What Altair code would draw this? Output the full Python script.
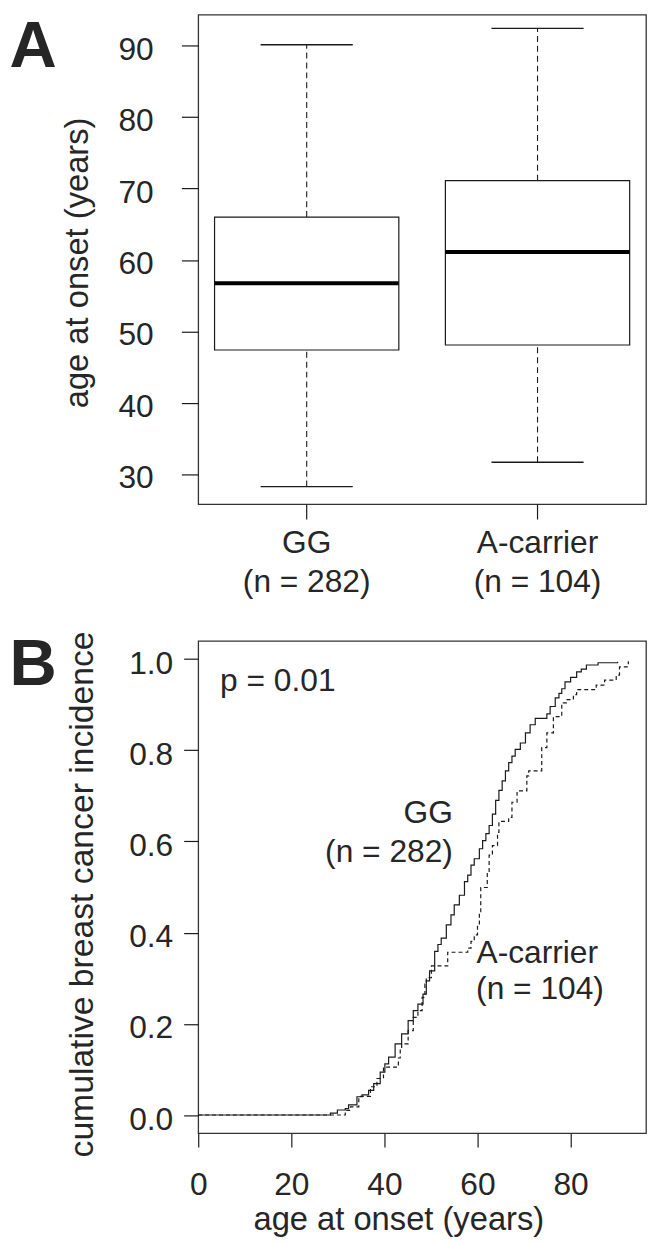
import altair as alt
import pandas as pd

# ---------------- Panel A: box plot summary (age at onset, years) ----------------
groups = ["GG", "A-carrier"]
group_n = [282, 104]
whisker_low = [28.3, 31.7]
q1 = [47.4, 48.1]
median = [56.75, 61.1]
q3 = [66.0, 71.1]
whisker_high = [90.1, 92.4]

# ---------------- Panel B: cumulative incidence ----------------
gg_age = [0, 28.4, 29.9, 31.6, 32.3, 34.1, 35.2, 36.6, 37.7, 39.1, 40.1, 40.9, 42.3, 43.7,
          45.1, 46.2, 47.2, 48.3, 49.0, 49.7, 50.8, 51.5, 52.2, 53.3, 54.3, 55.0, 56.1, 57.2,
          57.9, 58.6, 59.3, 60.4, 61.1, 61.8, 62.5, 63.2, 63.9, 64.6, 65.3, 66.0, 66.7, 67.4,
          68.1, 69.2, 70.3, 71.3, 72.4, 74.9, 75.6, 76.7, 77.5, 78.1, 78.8, 80.0, 81.3, 82.3,
          83.4, 85.9, 90.1]
gg_cum = [0, 0.004, 0.011, 0.014, 0.022, 0.040, 0.044, 0.054, 0.069, 0.094, 0.112, 0.127, 0.156, 0.178,
          0.207, 0.229, 0.243, 0.265, 0.294, 0.316, 0.359, 0.374, 0.388, 0.417, 0.439, 0.461, 0.482, 0.512,
          0.526, 0.548, 0.562, 0.584, 0.602, 0.617, 0.635, 0.660, 0.690, 0.712, 0.733, 0.755, 0.773, 0.787,
          0.802, 0.816, 0.838, 0.856, 0.870, 0.880, 0.896, 0.915, 0.925, 0.935, 0.950, 0.960, 0.972, 0.978,
          0.987, 0.992, 0.994]

ac_age = [0, 31.6, 32.7, 34.5, 37.0, 38.4, 39.8, 43.0, 43.4, 43.7, 45.1, 46.2, 47.2, 48.1, 48.7,
          49.0, 50.1, 53.6, 57.9, 58.6, 59.3, 60.0, 60.4, 60.7, 62.1, 62.5, 63.2, 64.3, 64.6, 66.7,
          67.4, 68.5, 70.6, 71.0, 73.8, 74.9, 76.3, 78.1, 79.1, 80.6, 81.3, 85.5, 87.3, 89.8, 90.5, 92.4]
ac_cum = [0, 0.010, 0.018, 0.041, 0.062, 0.080, 0.105, 0.125, 0.145, 0.156, 0.185, 0.214, 0.229, 0.258, 0.287,
          0.301, 0.327, 0.357, 0.366, 0.381, 0.395, 0.417, 0.446, 0.499, 0.533, 0.570, 0.591, 0.620, 0.644, 0.653,
          0.686, 0.711, 0.744, 0.755, 0.806, 0.838, 0.874, 0.904, 0.911, 0.922, 0.933, 0.943, 0.954, 0.965, 0.983, 0.995]

p_value_text = "p = 0.01"

FONT = "Liberation Sans"
TXT = "#262626"
LINE = "#1a1a1a"

# ---------------- tables ----------------
labels = [f"{g}\n(n = {n})" for g, n in zip(groups, group_n)]
box_df = pd.DataFrame({"label": labels, "lower": whisker_low, "q1": q1, "median": median,
                       "q3": q3, "upper": whisker_high})

km_gg = pd.DataFrame({"age": gg_age, "cum": gg_cum})
km_ac = pd.DataFrame({"age": ac_age, "cum": ac_cum})

annot_right = pd.DataFrame({"age": [54.7, 54.7], "cum": [0.641, 0.556],
                            "t": [groups[0], f"(n = {group_n[0]})"]})
annot_left = pd.DataFrame({"age": [59.8, 59.7, 4.7], "cum": [0.334, 0.254, 0.931],
                           "t": [groups[1], f"(n = {group_n[1]})", p_value_text]})

# ---------------- Panel A ----------------
xA_scale = alt.Scale(domain=labels, paddingInner=0.2017, paddingOuter=0.0708)
xA_axis = alt.Axis(title=None, labelExpr="split(datum.label, '\\n')", labelAngle=0,
                   labelFontSize=32, labelLineHeight=39, labelBaseline="top", labelAlign="center",
                   labelPadding=9, tickSize=15, labelOverlap=False)
yA_scale = alt.Scale(domain=[25.84, 94.3], nice=False, zero=False)
yA_axis = alt.Axis(values=[30, 40, 50, 60, 70, 80, 90], title="age at onset (years)",
                   titleFontSize=33, titleAngle=-90, titleX=-112, titleY=250,
                   titleBaseline="alphabetic", titleAlign="center",
                   labelFontSize=32, labelBaseline="alphabetic", labelOffset=13.7,
                   labelPadding=28.4, tickSize=17, labelFlush=False, labelOverlap=False)


def xa():
    return alt.X("label:N", scale=xA_scale, axis=xA_axis)


def ya(field):
    return alt.Y(f"{field}:Q", scale=yA_scale, axis=yA_axis)


baseA = alt.Chart(box_df)
whisk_hi = baseA.mark_rule(color=LINE, strokeWidth=1.1, strokeDash=[6, 4]).encode(
    x=xa(), y=ya("q3"), y2="upper")
whisk_lo = baseA.mark_rule(color=LINE, strokeWidth=1.1, strokeDash=[6, 4]).encode(
    x=xa(), y=ya("lower"), y2="q1")
box = baseA.mark_bar(fill="white", stroke=LINE, strokeWidth=1.2).encode(
    x=xa(), y=ya("q1"), y2="q3")
med = baseA.mark_tick(color="black", size=186, thickness=4, opacity=1).encode(
    x=xa(), y=ya("median"))
cap_hi = baseA.mark_tick(color=LINE, size=93, thickness=1.3, opacity=1).encode(
    x=xa(), y=ya("upper"))
cap_lo = baseA.mark_tick(color=LINE, size=93, thickness=1.3, opacity=1).encode(
    x=xa(), y=ya("lower"))
letterA = alt.Chart(pd.DataFrame({"t": ["A"]})).mark_text(
    font=FONT, fontSize=66, fontWeight="bold", align="left", baseline="alphabetic",
    color=TXT).encode(text="t:N", x=alt.value(-190.5), y=alt.value(53))

panelA = alt.layer(whisk_hi, whisk_lo, box, med, cap_hi, cap_lo, letterA).properties(
    width=452, height=494)

# ---------------- Panel B ----------------
xB_scale = alt.Scale(domain=[0, 96.2], nice=False, zero=False)
xB_axis = alt.Axis(values=[0, 20, 40, 60, 80], title="age at onset (years)",
                   titleFontSize=33, titleX=202, titleY=97, titleBaseline="alphabetic",
                   titleAlign="center", labelFontSize=32, labelBaseline="top",
                   labelPadding=23, tickSize=14, labelFlush=False, labelOverlap=False)
yB_scale = alt.Scale(domain=[-0.04, 1.04], nice=False, zero=False)
yB_axis = alt.Axis(values=[0, 0.2, 0.4, 0.6, 0.8, 1.0], format=".1f",
                   title="cumulative breast cancer incidence", titleFontSize=34,
                   titleAngle=-90, titleX=-106.3, titleY=255.5, titleBaseline="alphabetic",
                   titleAlign="center", labelFontSize=32, labelBaseline="alphabetic",
                   labelOffset=14.3, labelPadding=11, tickSize=14.7, labelFlush=False,
                   labelOverlap=False)


def xb():
    return alt.X("age:Q", scale=xB_scale, axis=xB_axis)


def yb():
    return alt.Y("cum:Q", scale=yB_scale, axis=yB_axis)


line_gg = alt.Chart(km_gg).mark_line(interpolate="step-after", color=LINE, strokeWidth=1.2).encode(
    x=xb(), y=yb())
line_ac = alt.Chart(km_ac).mark_line(interpolate="step-after", color=LINE, strokeWidth=1.2,
                                     strokeDash=[4, 3]).encode(x=xb(), y=yb())
txt_r = alt.Chart(annot_right).mark_text(font=FONT, fontSize=32, align="right",
                                         baseline="alphabetic", color=TXT).encode(
    x=xb(), y=yb(), text="t:N")
txt_l = alt.Chart(annot_left).mark_text(font=FONT, fontSize=32, align="left",
                                        baseline="alphabetic", color=TXT).encode(
    x=xb(), y=yb(), text="t:N")
letterB = alt.Chart(pd.DataFrame({"t": ["B"]})).mark_text(
    font=FONT, fontSize=66, fontWeight="bold", align="left", baseline="alphabetic",
    color=TXT).encode(text="t:N", x=alt.value(-190.5), y=alt.value(45))

panelB = alt.layer(line_gg, line_ac, txt_r, txt_l, letterB).properties(width=452, height=497)

chart = alt.vconcat(panelA, panelB, spacing=138, bounds="flush").properties(
    padding={"left": 0, "top": 0, "right": 0, "bottom": 0},
    autosize=alt.AutoSizeParams(type="pad")
).configure_view(
    stroke="#333333", strokeWidth=1.3
).configure_axis(
    domain=False, grid=False, tickColor=LINE, tickWidth=1.2,
    labelFont=FONT, titleFont=FONT, labelColor=TXT, titleColor=TXT,
    titleFontWeight="normal"
)

chart.save("out.html", embed_options={"renderer": "svg", "actions": False})
